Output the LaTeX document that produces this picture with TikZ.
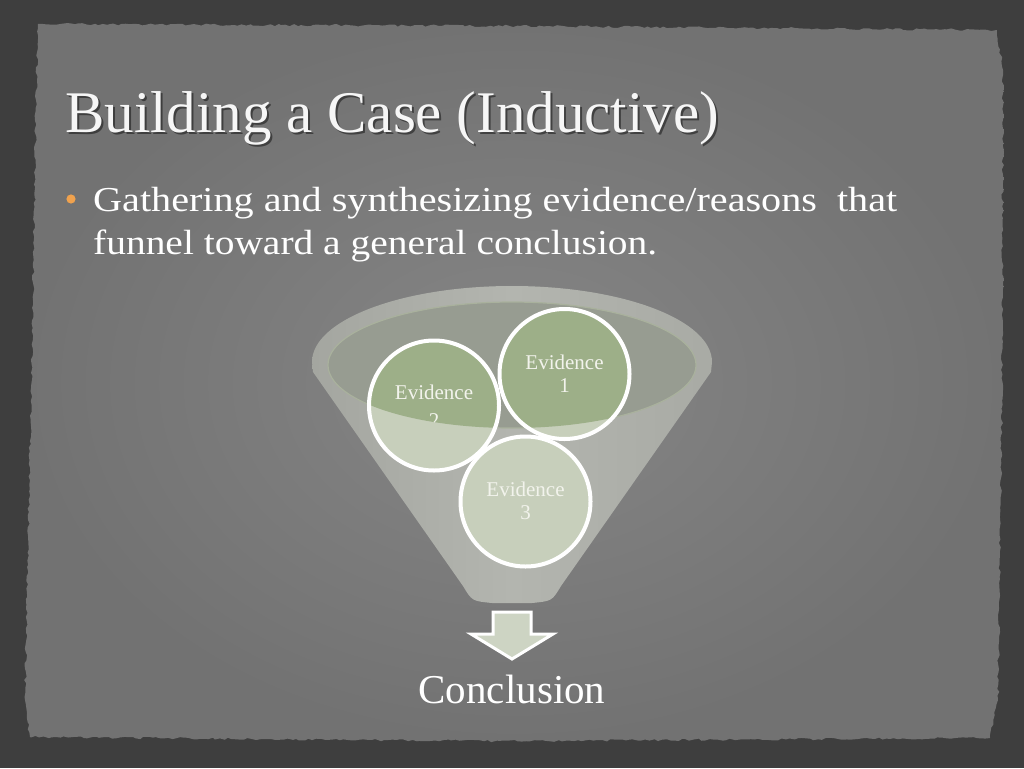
\documentclass[tikz,border=0pt]{standalone}
\usepackage{fontspec}
\usepackage{graphicx}
\setmainfont{Liberation Serif}
\usetikzlibrary{decorations.pathmorphing}
\definecolor{frame}{HTML}{3E3E3E}
\definecolor{panelin}{HTML}{868686}
\definecolor{panelout}{HTML}{727272}
\definecolor{funnelA}{HTML}{A4A6A0}
\definecolor{funnelB}{HTML}{B3B5AF}
\definecolor{rimcol}{HTML}{979C91}
\definecolor{rimedge}{HTML}{A9B19D}
\definecolor{greendark}{HTML}{9DAF88}
\definecolor{greenlight}{HTML}{C7CFBB}
\definecolor{arrowfill}{HTML}{CDD4C3}
\definecolor{evtext}{HTML}{F2F3EC}
\definecolor{bulletcol}{HTML}{F0A24E}
\tikzset{
  evcircle/.style={circle,minimum size=130pt,inner sep=0pt},
  evlabel/.style={anchor=base,inner sep=0pt,text=evtext,font=\fontsize{21}{25}\selectfont},
  bodytext/.style={anchor=base west,inner sep=0pt,text=white},
}
\begin{document}
\begin{tikzpicture}[x=1pt,y=-1pt]
\useasboundingbox (0,0) rectangle (1024,768);
\fill[frame] (0,0) rectangle (1024,768);
% panel
\pgfmathsetseed{11}
\shade[inner color=panelin,outer color=panelout,
  decorate,decoration={random steps,segment length=4pt,amplitude=1.2pt}]
  (38,24) -- (520,26) -- (997,30) -- (1003,70) -- (1002,400) -- (998,700)
  -- (990,738) -- (500,741) -- (30,737) -- (25,700) -- (33,300) -- (36,100) -- cycle;
% title
\node[bodytext,text=black,opacity=0.45,font=\fontsize{59}{66}\selectfont] (titleshadow) at (67,134) {Building a Case (Inductive)};
\node[bodytext,text=white!93!gray,font=\fontsize{59}{66}\selectfont] (title) at (65,132) {Building a Case (Inductive)};
% bullet
\fill[bulletcol] (71,199) circle (4.6);
\node[bodytext] (line1) at (93,211) {\resizebox{804pt}{\height}{\fontsize{35}{42}\selectfont Gathering and synthesizing evidence/reasons\ \ that}};
\node[bodytext] (line2) at (93,254) {\resizebox{564pt}{\height}{\fontsize{35}{42}\selectfont funnel toward a general conclusion.}};
% funnel body
\shade[left color=funnelA,right color=funnelA!70!funnelB,middle color=funnelB]
  (312,362) arc[start angle=180,end angle=360,x radius=200,y radius=76]
  -- (711,372) -- (561,586) .. controls (552,601) .. (532,603) -- (492,603)
  .. controls (472,601) .. (463,586) -- (313,372) -- cycle;
% inner ellipse
\fill[rimcol] (512,365) ellipse[x radius=184,y radius=63];
\draw[rimedge,line width=1.2pt] (512,365) ellipse[x radius=184,y radius=63];
% circles
\node[evcircle,fill=greenlight] (ev1) at (564.5,374) {};
\node[evcircle,fill=greenlight] (ev2) at (434,405.5) {};
\node[evcircle,fill=greenlight] (ev3) at (525.5,501.5) {};
\begin{scope}
  \clip (512,365) ellipse[x radius=184,y radius=63];
  \fill[greendark] (ev1.center) circle (65);
  \fill[greendark] (ev2.center) circle (65);
  \node[evlabel] (ev2b) at (434,427) {2};
\end{scope}
\draw[white,line width=4pt] (ev1.center) circle (65);
\draw[white,line width=4pt] (ev2.center) circle (65);
\draw[white,line width=4pt] (ev3.center) circle (65);
\node[evlabel] (ev1a) at (564.5,369) {Evidence};
\node[evlabel] (ev1b) at (564.5,392) {1};
\node[evlabel] (ev2a) at (434,399) {Evidence};
\node[evlabel] (ev3a) at (525.5,496) {Evidence};
\node[evlabel] (ev3b) at (525.5,519) {3};
% arrow
\draw[white,line width=3pt,fill=arrowfill,line join=miter]
  (493,612) -- (531,612) -- (531,634) -- (553,634) -- (512,659)
  -- (471,634) -- (493,634) -- cycle;
\node[anchor=base,inner sep=0pt,text=white,font=\fontsize{41}{48}\selectfont] (concl) at (512,703) {Conclusion};
\end{tikzpicture}
\end{document}
